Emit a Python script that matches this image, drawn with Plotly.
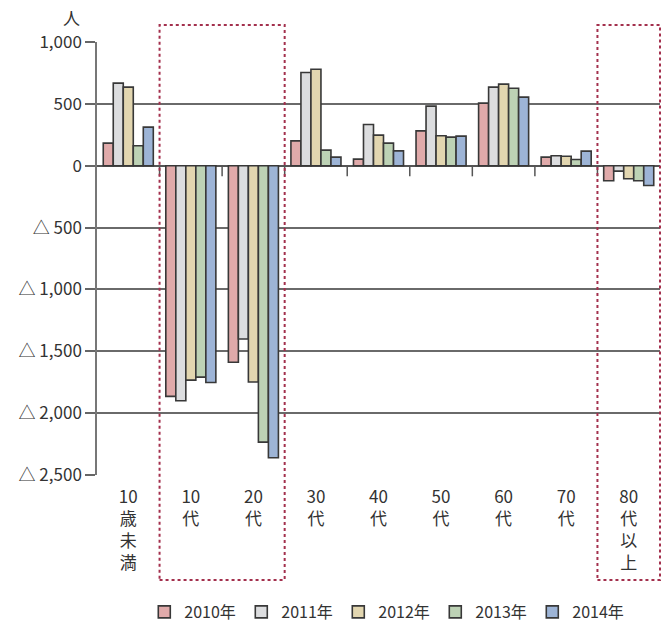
import plotly.graph_objects as go

# Age groups (vertical labels stacked one character per line)
categories = ["10歳未満", "10代", "20代", "30代", "40代", "50代", "60代", "70代", "80代以上"]
category_labels = ["10<br>歳<br>未<br>満", "10<br>代", "20<br>代", "30<br>代", "40<br>代",
                   "50<br>代", "60<br>代", "70<br>代", "80<br>代<br>以<br>上"]

years = ["2010年", "2011年", "2012年", "2013年", "2014年"]

# Net change in population (persons), per year
v2010 = [184, -1866, -1589, 202, 54, 283, 507, 70, -121]
v2011 = [669, -1901, -1402, 755, 334, 483, 637, 81, -43]
v2012 = [637, -1734, -1750, 782, 248, 243, 661, 78, -105]
v2013 = [162, -1710, -2236, 127, 184, 232, 628, 51, -121]
v2014 = [313, -1753, -2362, 70, 121, 240, 556, 119, -159]
series = [v2010, v2011, v2012, v2013, v2014]

colors = ["#e0aaaa", "#dcdddf", "#e2d6b0", "#bdd2b5", "#9db4d6"]

# y-axis ticks; negatives are written with a leading triangle
y_ticks = [1000, 500, 0, -500, -1000, -1500, -2000, -2500]


def fmt_tick(v):
    s = f"{abs(v):,}"
    return f"△ {s}" if v < 0 else s


FONT = "Noto Sans CJK JP"
TXT = "#333333"

fig = go.Figure()
for name, vals, col in zip(years, series, colors):
    fig.add_trace(go.Bar(
        x=list(range(len(categories))), y=vals, name=name,
        marker=dict(color=col, line=dict(color="#383838", width=1.6)),
    ))

n = len(categories)
shapes = []
# small category separator ticks hanging from the zero line
for i in range(n - 1):
    shapes.append(dict(type="line", xref="x", yref="y", x0=i + 0.5, x1=i + 0.5,
                       y0=0, y1=-85, line=dict(color="#555555", width=1.5)))

plot_top, plot_bottom = 42, 475
plot_h = plot_bottom - plot_top
box_top = 1 + (plot_top - 25) / plot_h
box_bottom = -(580 - plot_bottom) / plot_h
# dotted boxes highlighting the 10代–20代 and 80代以上 groups
for a, b in [(1, 2), (8, 8)]:
    shapes.append(dict(type="rect", xref="paper", yref="paper",
                       x0=a / n, x1=(b + 1) / n,
                       y0=box_bottom, y1=box_top,
                       line=dict(color="#a3304d", width=2, dash="dot")))

fig.update_layout(
    width=661, height=625,
    margin=dict(l=97, r=1, t=plot_top, b=625 - plot_bottom, autoexpand=False),
    paper_bgcolor="white", plot_bgcolor="white",
    barmode="group", bargap=0.2, bargroupgap=0,
    font=dict(family=FONT, size=17, color=TXT),
    showlegend=True,
    legend=dict(orientation="h", x=0.084, xanchor="left",
                y=-(612 - plot_bottom) / plot_h, yanchor="middle",
                font=dict(family=FONT, size=16, color=TXT),
                entrywidth=52, itemwidth=30, traceorder="normal",
                tracegroupgap=0),
    xaxis=dict(
        range=[-0.5, n - 0.5], tickmode="array",
        tickvals=list(range(n)), ticktext=category_labels,
        showgrid=False, zeroline=False, showline=False, ticks="",
        ticklabelstandoff=10, tickfont=dict(family=FONT, size=17, color=TXT),
        automargin=False,
    ),
    yaxis=dict(
        range=[-2502, 1002], tickmode="array", tickvals=y_ticks,
        ticktext=[fmt_tick(v) for v in y_ticks],
        showgrid=True, gridcolor="#6a6a6a", gridwidth=1.5,
        zeroline=True, zerolinecolor="#555555", zerolinewidth=1.5,
        showline=True, linecolor="#777777", linewidth=1.5,
        ticks="outside", ticklen=10, tickcolor="#666666", tickwidth=1.5,
        tickfont=dict(family=FONT, size=17, color=TXT),
        automargin=False,
    ),
    shapes=shapes,
    annotations=[dict(text="人", xref="paper", yref="paper",
                      x=(71 - 97) / 563, y=1 + (42 - 18) / plot_h,
                      xanchor="center", yanchor="middle",
                      showarrow=False, font=dict(family=FONT, size=17, color=TXT))],
)

fig.write_html("out.html")
